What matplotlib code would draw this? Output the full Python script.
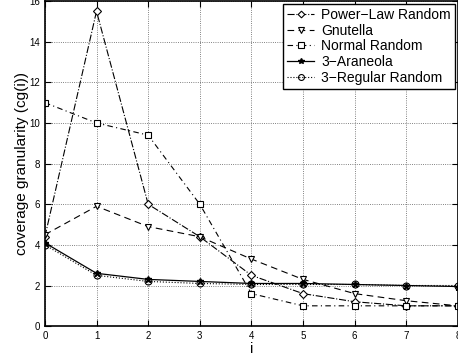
import matplotlib
matplotlib.use("Agg")
import matplotlib.pyplot as plt

plt.rcParams['font.family'] = ['Liberation Sans', 'DejaVu Sans']

i_vals = [0, 1, 2, 3, 4, 5, 6, 7, 8]
power_law = [4.4, 15.5, 6.0, 4.4, 2.5, 1.6, 1.2, 1.0, 1.0]
gnutella = [4.5, 5.9, 4.9, 4.4, 3.3, 2.3, 1.6, 1.25, 1.0]
normal_random = [11.0, 10.0, 9.4, 6.0, 1.6, 1.0, 1.0, 1.0, 1.0]
araneola = [4.1, 2.6, 2.3, 2.2, 2.1, 2.1, 2.05, 2.0, 1.95]
regular_random = [4.0, 2.5, 2.2, 2.1, 2.05, 2.05, 2.05, 2.0, 2.0]

fig = plt.figure(figsize=(4.58, 3.58), dpi=100)
ax = fig.add_axes([0.098, 0.089, 0.902, 0.908])

ax.plot(i_vals, power_law, color='k', lw=0.8, ls='-.', marker='D', ms=4,
        mfc='white', mec='k', mew=0.8, label='Power\u2212Law Random')
ax.plot(i_vals, gnutella, color='k', lw=0.8, ls=(0, (6, 4)), marker='v', ms=5,
        mfc='white', mec='k', mew=0.8, label='Gnutella')
ax.plot(i_vals, normal_random, color='k', lw=0.8, ls=(0, (5, 3, 1, 3)), marker='s', ms=4.5,
        mfc='white', mec='k', mew=0.8, label='Normal Random')
ax.plot(i_vals, araneola, color='k', lw=0.9, ls='-', marker='*', ms=5,
        mfc='k', mec='k', label='3\u2212Araneola')
ax.plot(i_vals, regular_random, color='k', lw=0.8, ls=':', marker='o', ms=5,
        mfc='none', mec='k', mew=0.8, label='3\u2212Regular Random')

ax.set_xlim(0, 8)
ax.set_ylim(0, 16)
ax.set_xticks(range(0, 9))
ax.set_yticks(range(0, 17, 2))
ax.tick_params(direction='in', top=True, right=True, labelsize=7, length=4, width=0.8)
ax.grid(True, ls=':', color='0.35', lw=0.6)
for s in ax.spines.values():
    s.set_linewidth(1.2)

ax.set_xlabel('i', fontsize=10.5, labelpad=1)
ax.set_ylabel('coverage granularity (cg(i))', fontsize=11, labelpad=0)

leg = ax.legend(loc='upper right', fontsize=10, frameon=True, fancybox=False,
                edgecolor='k', framealpha=1, borderpad=0.3, labelspacing=0.12,
                handlelength=2.0, handletextpad=0.5, borderaxespad=0.2,
                markerscale=0.85)
leg.get_frame().set_linewidth(1.0)

fig.savefig('out.png', dpi=100)
